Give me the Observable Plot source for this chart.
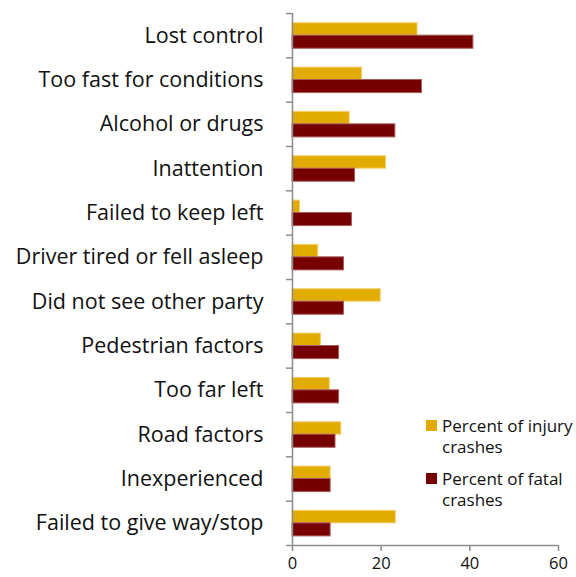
<!DOCTYPE html>
<html>
<head>
<meta charset="utf-8">
<script src="https://cdn.jsdelivr.net/npm/d3@7"></script>
<script src="https://cdn.jsdelivr.net/npm/@observablehq/plot@0.6"></script>
<style>
  html, body { margin: 0; padding: 0; background: #fff; }
  #wrap { position: relative; width: 576px; height: 577px; font-family: "Open Sans", sans-serif; }
  #legend { position: absolute; left: 426px; top: 415px; font-size: 17px; line-height: 21px; color: #111; white-space: nowrap; }
  .item { display: flex; align-items: flex-start; margin-bottom: 11px; }
  .sw { width: 11px; height: 11px; margin-top: 5px; margin-right: 5px; flex: none; }
</style>
</head>
<body>
<div id="wrap"></div>
<script>
const categories = [
  "Lost control",
  "Too fast for conditions",
  "Alcohol or drugs",
  "Inattention",
  "Failed to keep left",
  "Driver tired or fell asleep",
  "Did not see other party",
  "Pedestrian factors",
  "Too far left",
  "Road factors",
  "Inexperienced",
  "Failed to give way/stop"
];
const injury = [28.2, 15.7, 12.9, 21.1, 1.7, 5.8, 19.9, 6.4, 8.4, 11.0, 8.6, 23.3];
const fatal  = [40.8, 29.2, 23.2, 14.1, 13.4, 11.6, 11.6, 10.5, 10.5, 9.7, 8.6, 8.6];
const seriesKeys = ["injury", "fatal"];
const seriesLabels = [["Percent of injury", "crashes"], ["Percent of fatal", "crashes"]];
const seriesColors = ["#e2ab00", "#760000"];
const seriesStrokes = ["#f1cf6a", "#a85a5a"];
const xTicks = [0, 20, 40, 60];

const rows = [];
categories.forEach((c, i) => {
  rows.push({cat: c, i, series: "injury", value: injury[i]});
  rows.push({cat: c, i, series: "fatal", value: fatal[i]});
});

const bandTop = {injury: 0.22, fatal: 0.5};
const bandBottom = {injury: 0.5, fatal: 0.795};

const chart = Plot.plot({
  width: 576,
  height: 577,
  marginLeft: 292,
  marginRight: 18,
  marginTop: 13,
  marginBottom: 32,
  style: {fontFamily: "Open Sans, sans-serif", fontSize: "21.5px", color: "#111", background: "#fff"},
  x: {domain: [0, 60], label: null},
  y: {domain: [0, categories.length], reverse: true, label: null},
  color: {domain: seriesKeys, range: seriesColors},
  marks: [
    Plot.rectX(rows, {
      x1: 0,
      x2: "value",
      y1: d => d.i + bandTop[d.series],
      y2: d => d.i + bandBottom[d.series],
      fill: "series",
      stroke: d => seriesStrokes[seriesKeys.indexOf(d.series)],
      strokeWidth: 1
    }),
    Plot.ruleX([0], {stroke: "#8c8c8c", strokeWidth: 1.5}),
    Plot.ruleY([categories.length], {stroke: "#8c8c8c", strokeWidth: 1.5}),
    Plot.axisY({
      ticks: d3.range(categories.length + 1),
      tickSize: 6,
      tickFormat: () => "",
      stroke: "#8c8c8c",
      strokeWidth: 1.5,
      label: null
    }),
    Plot.axisY({
      ticks: d3.range(categories.length).map(i => i + 0.5),
      tickSize: 0,
      tickPadding: 29,
      tickFormat: d => categories[Math.floor(d)],
      fontSize: 21.5,
      fill: "#111",
      label: null
    }),
    Plot.axisX({
      ticks: xTicks,
      tickSize: 6,
      tickPadding: 6,
      fontSize: 16.5,
      stroke: "#8c8c8c",
      strokeWidth: 1.5,
      fill: "#111",
      label: null
    })
  ]
});

const wrap = document.getElementById("wrap");
wrap.appendChild(chart);

const legend = document.createElement("div");
legend.id = "legend";
seriesKeys.forEach((k, j) => {
  const item = document.createElement("div");
  item.className = "item";
  const sw = document.createElement("div");
  sw.className = "sw";
  sw.style.background = seriesColors[j];
  const txt = document.createElement("div");
  seriesLabels[j].forEach((line, n) => {
    if (n) txt.appendChild(document.createElement("br"));
    txt.appendChild(document.createTextNode(line));
  });
  item.appendChild(sw);
  item.appendChild(txt);
  legend.appendChild(item);
});
wrap.appendChild(legend);
</script>
</body>
</html>
